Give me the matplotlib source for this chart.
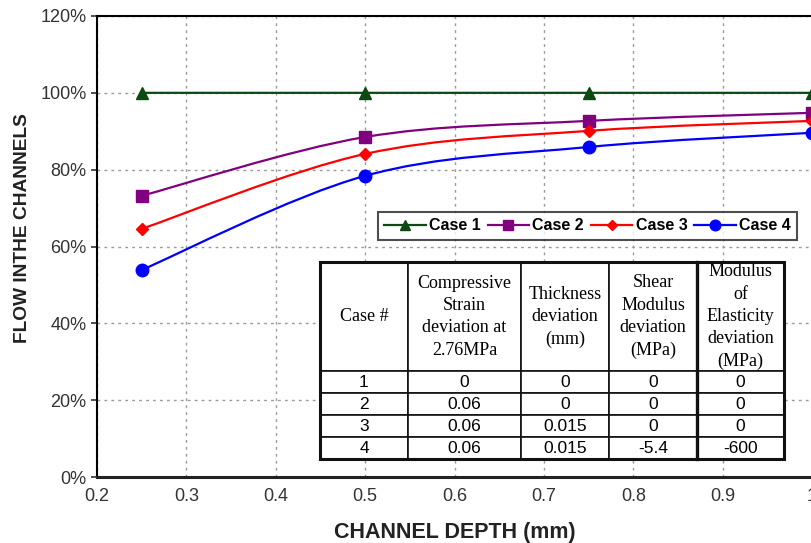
import matplotlib
matplotlib.use("Agg")
import matplotlib.pyplot as plt
from matplotlib.path import Path
from matplotlib.patches import PathPatch, Rectangle
from matplotlib.lines import Line2D
from matplotlib.ticker import PercentFormatter

# data
depth = [0.25, 0.5, 0.75, 1.0]
case1 = [100.0, 100.0, 100.0, 100.0]
case2 = [73.2, 88.5, 92.7, 94.8]
case3 = [64.6, 84.1, 90.1, 92.7]
case4 = [53.9, 78.4, 85.9, 89.6]

series_names = ["Case 1", "Case 2", "Case 3", "Case 4"]
series_colors = ["#0b4a12", "#800080", "#ff0000", "#0000ff"]
series_markers = ["^", "s", "D", "o"]
series_sizes = [9, 9, 6.5, 9]

table_header = ["Case #",
                "Compressive\nStrain\ndeviation at\n2.76MPa",
                "Thickness\ndeviation\n(mm)",
                "Shear\nModulus\ndeviation\n(MPa)",
                "Modulus\nof\nElasticity\ndeviation\n(MPa)"]
table_rows = [["1", "0", "0", "0", "0"],
              ["2", "0.06", "0", "0", "0"],
              ["3", "0.06", "0.015", "0", "0"],
              ["4", "0.06", "0.015", "-5.4", "-600"]]

plt.rcParams['font.family'] = ['Liberation Sans', 'DejaVu Sans']

W, H = 811, 543
fig = plt.figure(figsize=(W / 100, H / 100), dpi=100)
ax = fig.add_axes([97 / W, 1 - 477 / H, 715 / W, 461 / H])


def smooth_path(xs, ys):
    # excel-like smoothed line (bezier through the points)
    pts = list(zip(xs, ys))
    n = len(pts)
    verts = [pts[0]]
    codes = [Path.MOVETO]
    for i in range(n - 1):
        p0 = pts[max(i - 1, 0)]
        p1 = pts[i]
        p2 = pts[i + 1]
        p3 = pts[min(i + 2, n - 1)]
        c1 = (p1[0] + (p2[0] - p0[0]) / 6, p1[1] + (p2[1] - p0[1]) / 6)
        c2 = (p2[0] - (p3[0] - p1[0]) / 6, p2[1] - (p3[1] - p1[1]) / 6)
        verts += [c1, c2, p2]
        codes += [Path.CURVE4] * 3
    return Path(verts, codes)


all_series = [case1, case2, case3, case4]
handles = []
for vals, name, col, mk, ms in zip(all_series, series_names, series_colors,
                                   series_markers, series_sizes):
    ax.add_patch(PathPatch(smooth_path(depth, vals), fill=False,
                           edgecolor=col, lw=1.6, zorder=3))
    ax.plot(depth, vals, ls='none', marker=mk, ms=ms, color=col, zorder=4)
    handles.append(Line2D([], [], color=col, lw=1.6, marker=mk, ms=ms * 0.85,
                          label=name))

ax.set_xlim(0.2, 1.0)
ax.set_ylim(0, 120)
ax.set_xticks([0.2, 0.3, 0.4, 0.5, 0.6, 0.7, 0.8, 0.9, 1.0])
ax.set_xticklabels(["0.2", "0.3", "0.4", "0.5", "0.6", "0.7", "0.8", "0.9", "1"])
ax.set_yticks(range(0, 121, 20))
ax.yaxis.set_major_formatter(PercentFormatter(decimals=0))
ax.grid(True, color='#9a9a9a', ls=(0, (2, 3)), lw=1)
ax.set_axisbelow(True)
ax.tick_params(labelsize=13, colors='#333333', length=4, width=1.2)
ax.tick_params(axis='x', length=0, pad=8)
for s in ['left', 'top', 'right']:
    ax.spines[s].set_linewidth(1.5)
ax.spines['bottom'].set_linewidth(2.2)
ax.spines['bottom'].set_color('#222222')

ax.set_xlabel("CHANNEL DEPTH (mm)", fontsize=15.5, fontweight='bold',
              color='#222222', labelpad=12)
ax.set_ylabel("FLOW INTHE CHANNELS", fontsize=13.8, fontweight='bold',
              color='#222222')
ax.yaxis.set_label_coords(-0.092, 0.54)

leg = fig.legend(handles=handles, loc='center', ncol=4,
                 bbox_to_anchor=(378 / W, 1 - 247 / H, 419 / W, 42 / H),
                 mode='expand', frameon=True, fancybox=False,
                 prop={'weight': 'bold', 'size': 11.5}, handlelength=2.6,
                 handletextpad=0.2, columnspacing=1.0, borderaxespad=0)
leg.get_frame().set_edgecolor('#222222')
leg.get_frame().set_linewidth(1.5)

# table
x0, x1 = (320 - 97) / 715, (784 - 97) / 715
y0, y1 = (477 - 459) / 461, (477 - 262) / 461
col_px = [88, 113, 88, 88, 87]
tot = sum(col_px)
tbl = ax.table(cellText=[table_header] + table_rows,
               colWidths=[c / tot for c in col_px],
               cellLoc='center', bbox=[x0, y0, x1 - x0, y1 - y0], zorder=6)
tbl.auto_set_font_size(False)
for (r, c), cell in tbl.get_celld().items():
    cell.set_linewidth(1.2)
    cell.set_edgecolor('#111111')
    cell.set_facecolor('white')
    if r == 0:
        cell.set_height(5.0)
        cell.get_text().set_fontfamily('Liberation Serif')
        cell.get_text().set_fontsize(13)
        cell.get_text().set_linespacing(1.42)
    else:
        cell.set_height(1.0)
        cell.get_text().set_fontsize(12.5)
ax.add_patch(Rectangle((x0, y0), x1 - x0, y1 - y0, transform=ax.transAxes,
                       fill=False, lw=2.2, ec='#111111', zorder=7, clip_on=False))
xs4 = x0 + (x1 - x0) * sum(col_px[:4]) / tot
ax.plot([xs4, xs4], [y0, y1], transform=ax.transAxes, color='#111111',
        lw=2.4, zorder=7, clip_on=False)

fig.savefig("out.png", dpi=100)
